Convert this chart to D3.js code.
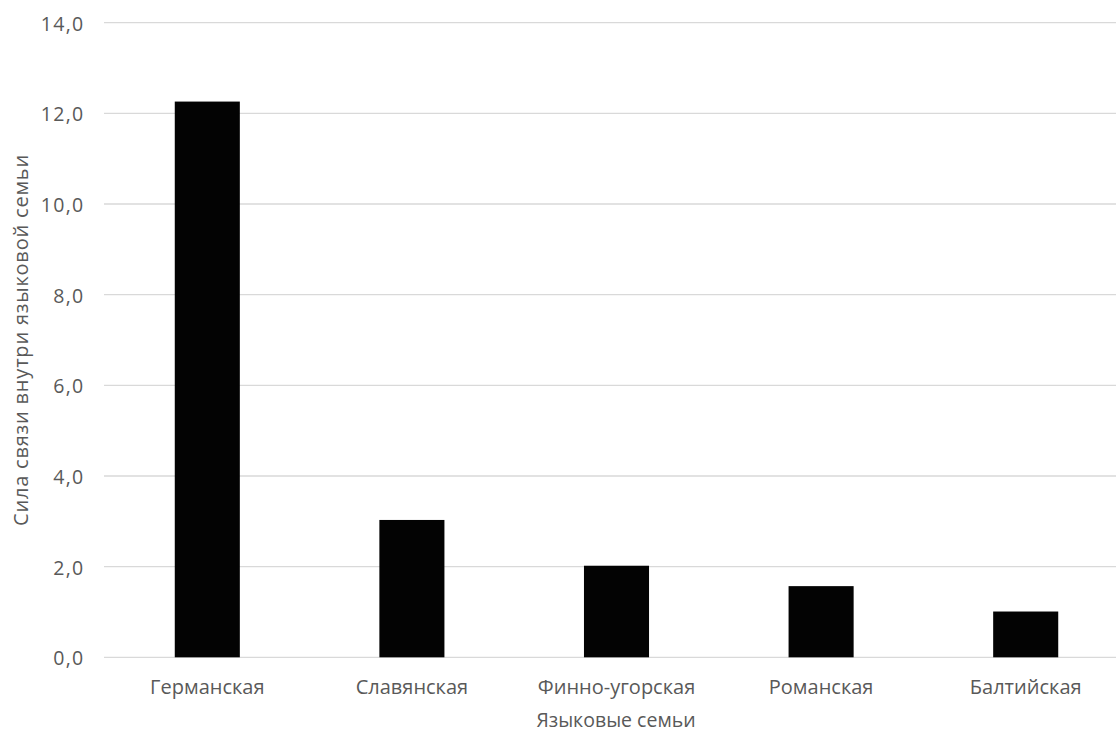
<!DOCTYPE html>
<html>
<head>
<meta charset="utf-8">
<script src="https://cdn.jsdelivr.net/npm/d3@7"></script>
<style>
  html, body { margin: 0; padding: 0; background: #fff; }
  svg { display: block; }
  text { font-family: "Open Sans", "Noto Sans", sans-serif; fill: #595959; }
</style>
</head>
<body>
<svg id="chart" width="1116" height="733"></svg>
<script>
// Language families and the strength of ties within each family
const families = ["Германская", "Славянская", "Финно-угорская", "Романская", "Балтийская"];
const strength = [12.26, 3.03, 2.02, 1.57, 1.01];
const yTicks = [0, 2, 4, 6, 8, 10, 12, 14];
const yTitle = "Сила связи внутри языковой семьи";
const xTitle = "Языковые семьи";

const svg = d3.select("#chart");
const plot = { left: 105, right: 1128, top: 22.7, bottom: 657.3 };

const x = d3.scaleBand()
  .domain(families)
  .range([plot.left, plot.right])
  .paddingInner(0.682)
  .paddingOuter(0.341);

const y = d3.scaleLinear()
  .domain([0, 14])
  .range([plot.bottom, plot.top]);

const fmt = v => d3.format(".1f")(v).replace(".", ",");

// Horizontal gridlines
svg.append("g")
  .selectAll("line")
  .data(yTicks)
  .join("line")
  .attr("x1", plot.left - 1)
  .attr("x2", 1116)
  .attr("y1", d => y(d))
  .attr("y2", d => y(d))
  .attr("stroke", "#d9d9d9")
  .attr("stroke-width", 1.3);

// Y axis labels
const yAxis = svg.append("g")
  .attr("transform", `translate(${plot.left - 20.5},0)`)
  .call(d3.axisLeft(y).tickValues(yTicks).tickFormat(fmt).tickSize(0).tickPadding(0));
yAxis.select(".domain").remove();
yAxis.selectAll("text")
  .attr("font-size", 19.5)
  .attr("font-family", "Open Sans")
  .attr("letter-spacing", 1.3)
  .attr("fill", "#595959")
  .attr("dy", "0.38em");

// Bars
svg.append("g")
  .selectAll("rect")
  .data(families.map((f, i) => ({ f, v: strength[i] })))
  .join("rect")
  .attr("x", d => x(d.f))
  .attr("width", x.bandwidth())
  .attr("y", d => y(d.v))
  .attr("height", d => y(0) - y(d.v))
  .attr("fill", "#030303");

// X axis category labels
const xAxis = svg.append("g")
  .attr("transform", `translate(0,${plot.bottom})`)
  .call(d3.axisBottom(x).tickSize(0).tickPadding(0));
xAxis.select(".domain").remove();
xAxis.selectAll("text")
  .attr("font-size", 20)
  .attr("font-family", "Open Sans")
  .attr("fill", "#595959")
  .attr("y", 37)
  .attr("dy", 0);

// Axis titles
svg.append("text")
  .attr("x", 616)
  .attr("y", 726.5)
  .attr("text-anchor", "middle")
  .attr("font-size", 19.5)
  .text(xTitle);

svg.append("text")
  .attr("transform", `translate(21,${(plot.top + plot.bottom) / 2}) rotate(-90)`)
  .attr("dy", "0.35em")
  .attr("text-anchor", "middle")
  .attr("font-size", 20)
  .attr("letter-spacing", 0.8)
  .text(yTitle);
</script>
</body>
</html>
